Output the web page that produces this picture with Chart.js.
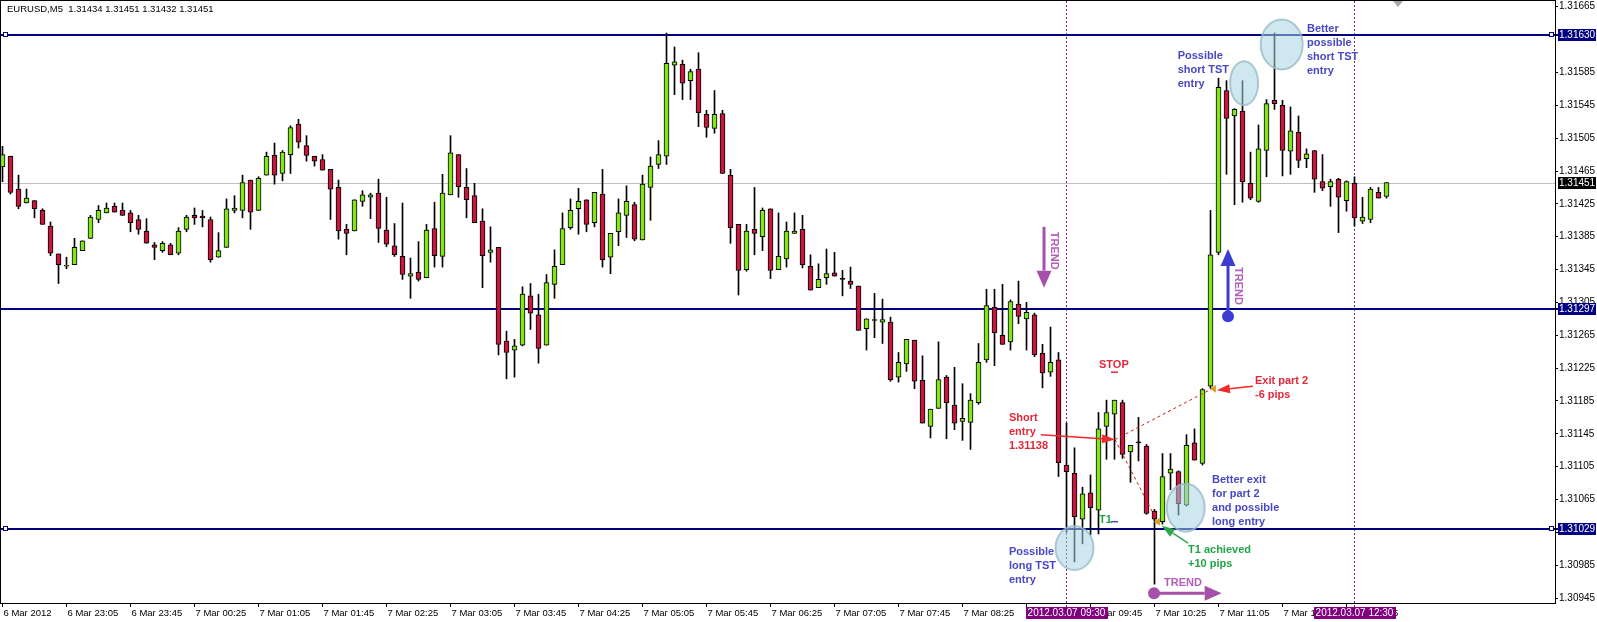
<!DOCTYPE html>
<html>
<head>
<meta charset="utf-8">
<title>EURUSD,M5</title>
<script src="https://cdn.jsdelivr.net/npm/chart.js@4.4.1/dist/chart.umd.min.js"></script>
<style>
  html, body { margin: 0; padding: 0; background: #fff; }
  #wrap { width: 1597px; height: 622px; }
</style>
</head>
<body>
<div id="wrap"><canvas id="chart" width="1597" height="622"></canvas></div>
<script>
// Price data, one value per 5-minute bar (6 Mar 22:25 .. 7 Mar 12:50)
const opens = [
  1.31470, 1.31483, 1.31443, 1.31426, 1.31429, 1.31417, 1.31398, 1.31364, 1.31349, 1.31351,
  1.31368, 1.31383, 1.31406, 1.31414, 1.31422, 1.31417, 1.31414, 1.31406, 1.31392, 1.31375,
  1.31368, 1.31375, 1.31365, 1.31394, 1.31411, 1.31410, 1.31406, 1.31360, 1.31372, 1.31417,
  1.31417, 1.31454, 1.31417, 1.31460, 1.31484, 1.31462, 1.31485, 1.31522, 1.31496, 1.31483,
  1.31479, 1.31467, 1.31445, 1.31394, 1.31392, 1.31428, 1.31433, 1.31438, 1.31393, 1.31374,
  1.31361, 1.31337, 1.31342, 1.31335, 1.31395, 1.31361, 1.31436, 1.31485, 1.31445, 1.31435,
  1.31404, 1.31366, 1.31372, 1.31258, 1.31247, 1.31253, 1.31313, 1.31290, 1.31253, 1.31327,
  1.31351, 1.31396, 1.31419, 1.31430, 1.31402, 1.31437, 1.31360, 1.31391, 1.31411, 1.31424,
  1.31381, 1.31445, 1.31473, 1.31483, 1.31594, 1.31595, 1.31575, 1.31589, 1.31534, 1.31517,
  1.31535, 1.31460, 1.31400, 1.31345, 1.31394, 1.31385, 1.31419, 1.31345, 1.31358, 1.31389,
  1.31394, 1.31349, 1.31323, 1.31335, 1.31341, 1.31333, 1.31331, 1.31325, 1.31273, 1.31283,
  1.31281, 1.31281, 1.31214, 1.31230, 1.31259, 1.31210, 1.31154, 1.31176, 1.31214, 1.31180,
  1.31160, 1.31159, 1.31183, 1.31235, 1.31299, 1.31265, 1.31257, 1.31303, 1.31285, 1.31290,
  1.31243, 1.31220, 1.31235, 1.31107, 1.31097, 1.31041, 1.31073, 1.31052, 1.31154, 1.31169,
  1.31183, 1.31123, 1.31134, 1.31130, 1.31051, 1.31038, 1.31097, 1.31099, 1.31058, 1.31134,
  1.31109, 1.31203, 1.31366, 1.31563, 1.31532, 1.31538, 1.31450, 1.31428, 1.31490, 1.31551,
  1.31545, 1.31489, 1.31512, 1.31480, 1.31490, 1.31452, 1.31446, 1.31455, 1.31429, 1.31450,
  1.31404, 1.31406, 1.31439, 1.31434
];
const highs = [
  1.31495, 1.31483, 1.31460, 1.31443, 1.31429, 1.31419, 1.31403, 1.31364, 1.31360, 1.31383,
  1.31380, 1.31411, 1.31423, 1.31426, 1.31426, 1.31426, 1.31417, 1.31411, 1.31407, 1.31378,
  1.31379, 1.31377, 1.31396, 1.31411, 1.31420, 1.31417, 1.31409, 1.31390, 1.31431, 1.31435,
  1.31460, 1.31454, 1.31458, 1.31488, 1.31499, 1.31490, 1.31520, 1.31528, 1.31508, 1.31483,
  1.31485, 1.31467, 1.31454, 1.31400, 1.31430, 1.31441, 1.31438, 1.31455, 1.31433, 1.31401,
  1.31426, 1.31359, 1.31379, 1.31400, 1.31427, 1.31461, 1.31508, 1.31485, 1.31468, 1.31450,
  1.31419, 1.31397, 1.31372, 1.31270, 1.31260, 1.31324, 1.31328, 1.31315, 1.31339, 1.31369,
  1.31414, 1.31431, 1.31444, 1.31430, 1.31439, 1.31467, 1.31389, 1.31431, 1.31447, 1.31427,
  1.31460, 1.31482, 1.31502, 1.31633, 1.31616, 1.31600, 1.31589, 1.31609, 1.31539, 1.31563,
  1.31539, 1.31467, 1.31400, 1.31400, 1.31445, 1.31420, 1.31419, 1.31414, 1.31403, 1.31414,
  1.31411, 1.31363, 1.31352, 1.31370, 1.31366, 1.31344, 1.31348, 1.31325, 1.31285, 1.31316,
  1.31309, 1.31287, 1.31244, 1.31260, 1.31259, 1.31240, 1.31175, 1.31257, 1.31216, 1.31226,
  1.31206, 1.31194, 1.31255, 1.31321, 1.31321, 1.31327, 1.31308, 1.31331, 1.31305, 1.31292,
  1.31254, 1.31275, 1.31244, 1.31158, 1.31128, 1.31080, 1.31095, 1.31171, 1.31186, 1.31186,
  1.31186, 1.31131, 1.31165, 1.31132, 1.31053, 1.31121, 1.31121, 1.31100, 1.31144, 1.31151,
  1.31200, 1.31417, 1.31578, 1.31575, 1.31541, 1.31575, 1.31488, 1.31521, 1.31552, 1.31633,
  1.31551, 1.31543, 1.31532, 1.31492, 1.31490, 1.31485, 1.31455, 1.31456, 1.31453, 1.31458,
  1.31433, 1.31445, 1.31445, 1.31451
];
const lows = [
  1.31452, 1.31437, 1.31419, 1.31426, 1.31408, 1.31400, 1.31362, 1.31328, 1.31346, 1.31351,
  1.31368, 1.31383, 1.31402, 1.31414, 1.31415, 1.31411, 1.31391, 1.31388, 1.31377, 1.31357,
  1.31366, 1.31363, 1.31363, 1.31391, 1.31400, 1.31397, 1.31354, 1.31360, 1.31372, 1.31414,
  1.31408, 1.31394, 1.31417, 1.31460, 1.31449, 1.31453, 1.31462, 1.31493, 1.31477, 1.31471,
  1.31466, 1.31406, 1.31382, 1.31363, 1.31392, 1.31422, 1.31407, 1.31378, 1.31373, 1.31361,
  1.31333, 1.31310, 1.31331, 1.31335, 1.31348, 1.31348, 1.31436, 1.31433, 1.31408, 1.31402,
  1.31323, 1.31354, 1.31241, 1.31212, 1.31214, 1.31252, 1.31272, 1.31231, 1.31253, 1.31310,
  1.31351, 1.31394, 1.31388, 1.31391, 1.31397, 1.31348, 1.31340, 1.31374, 1.31384, 1.31380,
  1.31381, 1.31405, 1.31468, 1.31473, 1.31558, 1.31552, 1.31552, 1.31519, 1.31506, 1.31511,
  1.31462, 1.31377, 1.31314, 1.31343, 1.31363, 1.31368, 1.31334, 1.31345, 1.31348, 1.31389,
  1.31347, 1.31320, 1.31323, 1.31327, 1.31337, 1.31313, 1.31322, 1.31271, 1.31247, 1.31262,
  1.31255, 1.31209, 1.31208, 1.31221, 1.31200, 1.31158, 1.31140, 1.31176, 1.31139, 1.31150,
  1.31137, 1.31126, 1.31181, 1.31232, 1.31228, 1.31254, 1.31247, 1.31279, 1.31247, 1.31239,
  1.31201, 1.31215, 1.31093, 1.31025, 1.30989, 1.31011, 1.31022, 1.31023, 1.31114, 1.31114,
  1.31115, 1.31086, 1.31112, 1.31047, 1.30962, 1.31035, 1.31077, 1.31046, 1.31057, 1.31113,
  1.31107, 1.31200, 1.31363, 1.31461, 1.31424, 1.31427, 1.31430, 1.31427, 1.31458, 1.31540,
  1.31459, 1.31461, 1.31469, 1.31469, 1.31439, 1.31441, 1.31422, 1.31390, 1.31416, 1.31398,
  1.31401, 1.31402, 1.31432, 1.31432
];
const closes = [
  1.31485, 1.31439, 1.31422, 1.31432, 1.31419, 1.31400, 1.31365, 1.31351, 1.31350, 1.31372,
  1.31380, 1.31409, 1.31417, 1.31420, 1.31415, 1.31411, 1.31402, 1.31394, 1.31377, 1.31372,
  1.31377, 1.31363, 1.31392, 1.31409, 1.31408, 1.31408, 1.31357, 1.31368, 1.31419, 1.31420,
  1.31451, 1.31415, 1.31456, 1.31483, 1.31460, 1.31488, 1.31518, 1.31500, 1.31484, 1.31477,
  1.31466, 1.31443, 1.31392, 1.31389, 1.31430, 1.31436, 1.31436, 1.31395, 1.31376, 1.31363,
  1.31339, 1.31340, 1.31333, 1.31393, 1.31362, 1.31438, 1.31487, 1.31446, 1.31430, 1.31402,
  1.31362, 1.31369, 1.31254, 1.31244, 1.31252, 1.31315, 1.31292, 1.31249, 1.31329, 1.31349,
  1.31395, 1.31417, 1.31428, 1.31400, 1.31439, 1.31357, 1.31389, 1.31414, 1.31428, 1.31382,
  1.31449, 1.31471, 1.31485, 1.31596, 1.31598, 1.31572, 1.31586, 1.31536, 1.31518, 1.31534,
  1.31462, 1.31396, 1.31344, 1.31392, 1.31389, 1.31417, 1.31344, 1.31361, 1.31392, 1.31392,
  1.31351, 1.31320, 1.31333, 1.31340, 1.31337, 1.31333, 1.31327, 1.31271, 1.31285, 1.31283,
  1.31284, 1.31211, 1.31232, 1.31260, 1.31209, 1.31158, 1.31175, 1.31211, 1.31183, 1.31158,
  1.31164, 1.31186, 1.31232, 1.31301, 1.31268, 1.31254, 1.31306, 1.31288, 1.31293, 1.31241,
  1.31219, 1.31232, 1.31110, 1.31099, 1.31044, 1.31072, 1.31055, 1.31151, 1.31171, 1.31186,
  1.31120, 1.31131, 1.31134, 1.31048, 1.31041, 1.31093, 1.31102, 1.31060, 1.31131, 1.31113,
  1.31199, 1.31363, 1.31567, 1.31529, 1.31540, 1.31452, 1.31432, 1.31492, 1.31547, 1.31547,
  1.31490, 1.31514, 1.31478, 1.31486, 1.31455, 1.31444, 1.31452, 1.31433, 1.31452, 1.31408,
  1.31409, 1.31443, 1.31432, 1.31451
];

// Axis ticks
const xTickBars = [0, 8, 16, 24, 32, 40, 48, 56, 64, 72, 80, 88, 96, 104, 112, 120, 128, 136, 144, 152, 160, 168];
const xTickLabels = [
  '6 Mar 2012', '6 Mar 23:05', '6 Mar 23:45', '7 Mar 00:25', '7 Mar 01:05', '7 Mar 01:45',
  '7 Mar 02:25', '7 Mar 03:05', '7 Mar 03:45', '7 Mar 04:25', '7 Mar 05:05', '7 Mar 05:45',
  '7 Mar 06:25', '7 Mar 07:05', '7 Mar 07:45', '7 Mar 08:25', '7 Mar 09:05', '7 Mar 09:45',
  '7 Mar 10:25', '7 Mar 11:05', '7 Mar 11:45', '7 Mar 12:25'
];
const yTickValues = [
  1.30945, 1.30985, 1.31025, 1.31065, 1.31105, 1.31145, 1.31185, 1.31225, 1.31265,
  1.31305, 1.31345, 1.31385, 1.31425, 1.31465, 1.31505, 1.31545, 1.31585, 1.31665
];

// Chart objects
const levelPrices = [1.31630, 1.31297, 1.31029];
const levelAnchored = [true, false, true];
const bidPrice = 1.31451;
const markerBars = [133, 169];
const markerLabels = ['2012.03.07 09:30', '2012.03.07 12:30'];
const titleText = 'EURUSD,M5  1.31434 1.31451 1.31432 1.31451';

const noteTexts = [
  { lines: ['Possible', 'short TST', 'entry'], bar: 146.9, price: 1.31605, color: 'blue' },
  { lines: ['Better', 'possible', 'short TST', 'entry'], bar: 163.06, price: 1.31638, color: 'blue' },
  { lines: ['STOP'], bar: 137.06, price: 1.31229, color: 'red' },
  { lines: ['Short', 'entry', '1.31138'], bar: 125.8, price: 1.31164, color: 'red' },
  { lines: ['Exit part 2', '-6 pips'], bar: 156.56, price: 1.31209, color: 'red' },
  { lines: ['Better exit', 'for part 2', 'and possible', 'long entry'], bar: 151.19, price: 1.31089, color: 'blue' },
  { lines: ['Possible', 'long TST', 'entry'], bar: 125.8, price: 1.31001, color: 'blue' },
  { lines: ['T1'], bar: 137.06, price: 1.31040, color: 'green' },
  { lines: ['T1 achieved', '+10 pips'], bar: 148.19, price: 1.31003, color: 'green' },
  { lines: ['TREND'], bar: 145.2, price: 1.30963, color: 'purple' }
];
const circles = [
  { bar: 155.2, price: 1.31572 },
  { bar: 159.9, price: 1.31619 },
  { bar: 147.9, price: 1.31055 },
  { bar: 134.0, price: 1.31006 }
];
const pointers = [
  { from: [129.8, 1.31144], to: [139.06, 1.31138], color: 'red' },
  { from: [156.3, 1.31203], to: [151.8, 1.31198], color: 'red' },
  { from: [148.2, 1.31012], to: [144.9, 1.31033], color: 'green' }
];
const trendArrows = [
  { from: [130.19, 1.31397], to: [130.19, 1.31323], color: 'purple', dot: false, label: [131.44, 1.31368] },
  { from: [153.19, 1.31288], to: [153.19, 1.31370], color: 'trend', dot: true, label: [154.5, 1.31325] },
  { from: [143.94, 1.30951], to: [152.4, 1.30951], color: 'purple', dot: true, label: null }
];
const tradePaths = [
  { from: [139.06, 1.31138], to: [151.2, 1.31200] },
  { from: [139.06, 1.31138], to: [144.06, 1.31044] }
];
const closeMarks = [[151.3, 1.31200], [144.3, 1.31038]];
const dashes = [
  { bars: [138.56, 139.44], price: 1.31220, color: 'red' },
  { bars: [138.56, 139.44], price: 1.31038, color: 'blue' }
];

const COLORS = {
  bull: '#84e41e', bear: '#c4183e', navy: '#000080',
  blue: '#4848c4', red: '#e2283a', green: '#22a446', purple: '#a650aa', trend: '#3c3cd2'
};
const FONT = '"Liberation Sans", Arial, sans-serif';

function drawArrow(ctx, x1, y1, x2, y2, color, lw, hl, hw) {
  const ang = Math.atan2(y2 - y1, x2 - x1);
  const bx = x2 - hl * Math.cos(ang), by = y2 - hl * Math.sin(ang);
  ctx.strokeStyle = color;
  ctx.fillStyle = color;
  ctx.lineWidth = lw;
  ctx.beginPath(); ctx.moveTo(x1, y1); ctx.lineTo(bx, by); ctx.stroke();
  ctx.beginPath();
  ctx.moveTo(x2, y2);
  ctx.lineTo(bx + hw / 2 * Math.sin(ang), by - hw / 2 * Math.cos(ang));
  ctx.lineTo(bx - hw / 2 * Math.sin(ang), by + hw / 2 * Math.cos(ang));
  ctx.closePath(); ctx.fill();
}

const mt4Objects = {
  id: 'mt4Objects',
  beforeDatasetsDraw(chart) {
    const { ctx, chartArea: a, scales: { x, y } } = chart;
    ctx.save();
    // bid line
    const by = Math.round(y.getPixelForValue(bidPrice)) + 0.5;
    ctx.strokeStyle = '#c0c0c0';
    ctx.lineWidth = 1;
    ctx.beginPath(); ctx.moveTo(a.left, by); ctx.lineTo(a.right, by); ctx.stroke();
    // vertical separators
    ctx.strokeStyle = '#7a1a7a';
    ctx.setLineDash([2, 2]);
    markerBars.forEach(b => {
      const vx = Math.floor(x.getPixelForValue(b)) + 0.5;
      ctx.beginPath(); ctx.moveTo(vx, a.top); ctx.lineTo(vx, a.bottom + 4); ctx.stroke();
    });
    ctx.setLineDash([]);
    // horizontal levels
    ctx.strokeStyle = COLORS.navy;
    ctx.lineWidth = 2;
    levelPrices.forEach(p => {
      const ly = Math.round(y.getPixelForValue(p));
      ctx.beginPath(); ctx.moveTo(a.left, ly); ctx.lineTo(a.right + 3, ly); ctx.stroke();
    });
    ctx.restore();
  },
  afterDatasetsDraw(chart) {
    const { ctx, chartArea: a, scales: { x, y } } = chart;
    const P = (b, p) => [x.getPixelForValue(b), y.getPixelForValue(p)];
    ctx.save();

    // level anchor squares
    levelPrices.forEach((p, i) => {
      if (!levelAnchored[i]) return;
      const ly = Math.round(y.getPixelForValue(p));
      ctx.fillStyle = '#fff';
      ctx.strokeStyle = COLORS.navy;
      ctx.lineWidth = 1;
      [a.left + 2, a.right - 6].forEach(sx => {
        ctx.fillRect(sx, ly - 2, 4, 4);
        ctx.strokeRect(sx + 0.5, ly - 2.5, 4, 4);
      });
    });

    // highlight ellipses
    const radii = [[14, 22], [21, 25], [19, 24], [19, 22]];
    circles.forEach((c, i) => {
      const [cx, cy] = P(c.bar, c.price);
      ctx.beginPath();
      ctx.ellipse(cx, cy, radii[i][0], radii[i][1], 0, 0, Math.PI * 2);
      ctx.fillStyle = 'rgba(168, 214, 228, 0.55)';
      ctx.fill();
      ctx.strokeStyle = 'rgba(150, 184, 196, 0.75)';
      ctx.lineWidth = 2;
      ctx.stroke();
    });

    // trade paths
    ctx.strokeStyle = '#d01818';
    ctx.lineWidth = 1;
    ctx.setLineDash([3, 3]);
    tradePaths.forEach(t => {
      const [x1, y1] = P(...t.from), [x2, y2] = P(...t.to);
      ctx.beginPath(); ctx.moveTo(x1, y1); ctx.lineTo(x2, y2); ctx.stroke();
    });
    ctx.setLineDash([]);

    // close marks
    ctx.fillStyle = '#d4a020';
    closeMarks.forEach(m => {
      const [mx, my] = P(...m);
      ctx.beginPath(); ctx.moveTo(mx - 3, my); ctx.lineTo(mx + 3, my - 4); ctx.lineTo(mx + 3, my + 4); ctx.closePath(); ctx.fill();
    });

    // stop / target dashes
    dashes.forEach(d => {
      const [x1, dy] = P(d.bars[0], d.price), [x2] = P(d.bars[1], d.price);
      ctx.strokeStyle = COLORS[d.color];
      ctx.lineWidth = 1.5;
      ctx.beginPath(); ctx.moveTo(x1, dy); ctx.lineTo(x2, dy); ctx.stroke();
    });

    // pointers
    pointers.forEach(pt => {
      const [x1, y1] = P(...pt.from), [x2, y2] = P(...pt.to);
      drawArrow(ctx, x1, y1, x2, y2, pt.color === 'red' ? '#ee2a2a' : '#2aa84a', 1.5, 13, 9);
    });

    // trend arrows
    trendArrows.forEach(t => {
      const [x1, y1] = P(...t.from), [x2, y2] = P(...t.to);
      const col = COLORS[t.color];
      drawArrow(ctx, x1, y1, x2, y2, col, 3, 17, 15);
      if (t.dot) {
        ctx.beginPath(); ctx.arc(x1, y1, 6, 0, Math.PI * 2); ctx.fillStyle = col; ctx.fill();
      }
      if (t.label) {
        const [lx, ly] = P(...t.label);
        ctx.save();
        ctx.translate(lx, ly);
        ctx.rotate(Math.PI / 2);
        ctx.font = 'bold 11px ' + FONT;
        ctx.textAlign = 'center';
        ctx.textBaseline = 'middle';
        ctx.fillStyle = '#b060b8';
        ctx.fillText('TREND', 0, 0);
        ctx.restore();
      }
    });

    // text notes
    ctx.font = 'bold 11px ' + FONT;
    ctx.textAlign = 'left';
    ctx.textBaseline = 'middle';
    noteTexts.forEach(n => {
      const [tx, ty] = P(n.bar, n.price);
      ctx.fillStyle = n.color === 'purple' ? '#b060b8' : COLORS[n.color];
      n.lines.forEach((line, i) => ctx.fillText(line, tx, ty + i * 14));
    });
    ctx.restore();
  },
  afterDraw(chart) {
    const { ctx, chartArea: a, scales: { x, y } } = chart;
    ctx.save();
    // plot frame
    ctx.strokeStyle = '#000';
    ctx.lineWidth = 1;
    ctx.strokeRect(a.left - 0.5, a.top - 0.5, a.right - a.left + 1, a.bottom - a.top + 1);

    // price tags on the right axis
    ctx.font = '10px ' + FONT;
    ctx.textBaseline = 'middle';
    ctx.textAlign = 'left';
    const tag = (p, bg) => {
      const ty = Math.round(y.getPixelForValue(p));
      ctx.fillStyle = bg;
      ctx.fillRect(a.right + 3, ty - 6, 38, 12);
      ctx.fillStyle = '#fff';
      ctx.fillText(p.toFixed(5), a.right + 4, ty + 0.5);
    };
    levelPrices.forEach(p => tag(p, COLORS.navy));
    tag(bidPrice, '#000');

    // time tags on the bottom axis
    ctx.textAlign = 'center';
    markerBars.forEach((b, i) => {
      const mx = Math.floor(x.getPixelForValue(b)) + 0.5;
      ctx.fillStyle = '#800080';
      ctx.fillRect(Math.round(mx - 41), a.bottom + 4, 82, 12);
      ctx.fillStyle = '#fff';
      ctx.fillText(markerLabels[i], mx, a.bottom + 10.5);
    });

    // title
    ctx.textAlign = 'left';
    ctx.fillStyle = '#000';
    ctx.font = '9.5px ' + FONT;
    ctx.fillText(titleText, a.left + 6, a.top + 8);

    // chart shift marker
    const sx = x.getPixelForValue(174.44);
    ctx.fillStyle = '#a8a8a8';
    ctx.beginPath(); ctx.moveTo(sx - 5, a.top); ctx.lineTo(sx + 5, a.top); ctx.lineTo(sx, a.top + 6); ctx.closePath(); ctx.fill();
    ctx.restore();
  }
};

const barIdx = opens.map((_, i) => i);
const bodyColors = barIdx.map(i => closes[i] > opens[i] ? COLORS.bull : (closes[i] < opens[i] ? COLORS.bear : '#000'));

new Chart(document.getElementById('chart'), {
  type: 'bar',
  data: {
    datasets: [
      {
        label: 'wick',
        data: barIdx.map(i => ({ x: i, y: [lows[i], highs[i]] })),
        backgroundColor: '#000',
        borderWidth: 0,
        barThickness: 1,
        grouped: false,
        order: 2
      },
      {
        label: 'body',
        data: barIdx.map(i => ({ x: i, y: [opens[i], closes[i]] })),
        backgroundColor: bodyColors,
        borderColor: '#000',
        borderWidth: 1,
        borderSkipped: false,
        barThickness: 5,
        minBarLength: 1,
        grouped: false,
        order: 1
      }
    ]
  },
  options: {
    responsive: false,
    animation: false,
    events: [],
    devicePixelRatio: 1,
    layout: { padding: { left: 1, top: 1, right: 0, bottom: 0 } },
    plugins: { legend: { display: false }, tooltip: { enabled: false } },
    scales: {
      x: {
        type: 'linear',
        position: 'bottom',
        min: -0.1875,
        max: 194.0625,
        offset: false,
        afterBuildTicks: s => { s.ticks = xTickBars.map(v => ({ value: v })); },
        afterFit: s => { s.height = 19; s.paddingLeft = 0; s.paddingRight = 0; },
        grid: { display: true, offset: false, drawOnChartArea: false, drawTicks: true, tickLength: 4, color: '#000' },
        border: { display: false },
        ticks: {
          autoSkip: false, maxRotation: 0, minRotation: 0, align: 'start', labelOffset: 1, padding: 1,
          color: '#000', font: { family: FONT, size: 9.5 },
          callback: (v, i) => xTickLabels[i]
        }
      },
      y: {
        type: 'linear',
        position: 'right',
        min: 1.30939,
        max: 1.31672,
        afterBuildTicks: s => { s.ticks = yTickValues.map(v => ({ value: v })); },
        afterFit: s => { s.width = 42; s.paddingTop = 0; s.paddingBottom = 0; },
        grid: { display: true, drawOnChartArea: false, drawTicks: true, tickLength: 3, color: '#000' },
        border: { display: false },
        ticks: {
          crossAlign: 'near', padding: 1, color: '#000', font: { family: FONT, size: 10 },
          callback: v => v.toFixed(5)
        }
      }
    }
  },
  plugins: [mt4Objects]
});
</script>
</body>
</html>
